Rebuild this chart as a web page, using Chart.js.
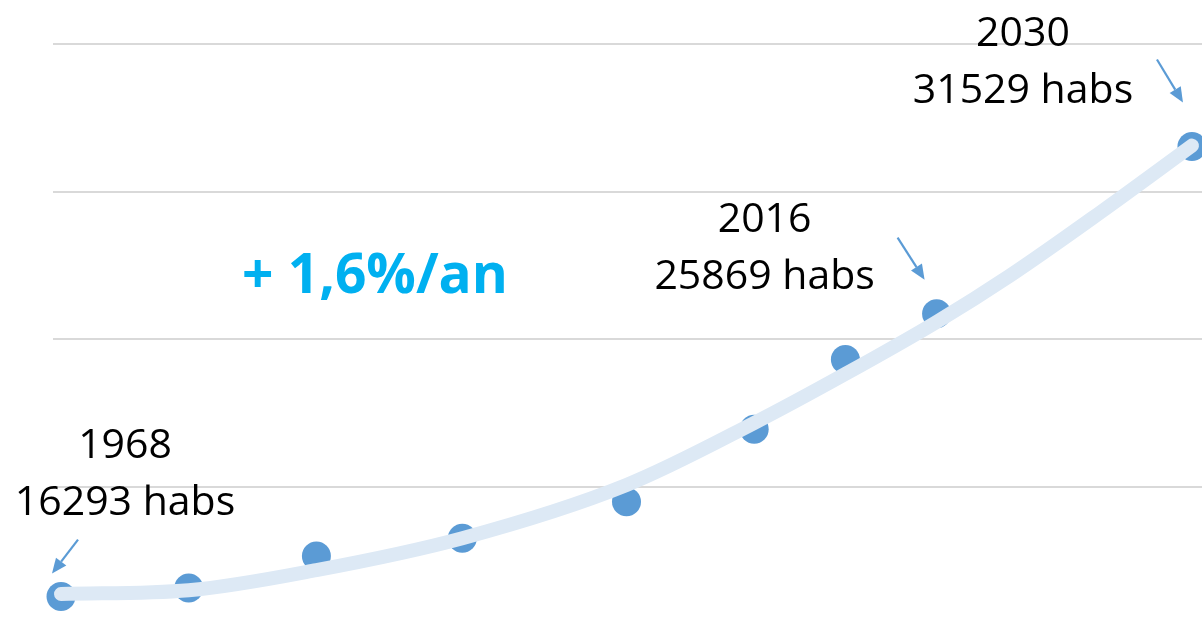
<!DOCTYPE html>
<html>
<head>
<meta charset="utf-8">
<script src="https://cdn.jsdelivr.net/npm/chart.js@4.4.1/dist/chart.umd.min.js"></script>
<style>
  html, body { margin: 0; padding: 0; background: #ffffff; overflow: hidden; }
  canvas { display: block; }
</style>
</head>
<body>
<canvas id="c" width="1202" height="633"></canvas>
<script>
// Census years and population (habitants)
const years = [1968, 1975, 1982, 1990, 1999, 2006, 2011, 2016, 2030];
const population = [16293, 16580, 17670, 18270, 19500, 21960, 24320, 25869, 31529];

// Trend curve
const trendYears = [1968, 1975, 1982, 1990, 1999, 2006, 2011, 2016, 2020, 2025, 2030];
const trendValues = [16380, 16510, 17190, 18270, 20070, 22170, 23830, 25590, 27150, 29310, 31560];

// Y gridline ticks
const yTicks = [20000, 25000, 30000, 35000];

// Annotated points
const labelYears = [1968, 2016, 2030];
const labelValues = [16293, 25869, 31529];
const growthLabel = "+ 1,6%/an";

const pointColor = '#5b9bd5';
const trendColor = '#dde9f5';

const annotations = {
  id: 'annotations',
  afterDatasetsDraw(chart) {
    const ctx = chart.ctx;
    const xs = chart.scales.x, ys = chart.scales.y;
    // text centre and arrow offsets relative to the annotated point
    const cfg = [
      { tx: 64, ty1: -139, ty2: -82, ax0: 17, ay0: -57, ax1: -9, ay1: -23 },
      { tx: -172, ty1: -82, ty2: -25, ax0: -39, ay0: -76, ax1: -12, ay1: -34 },
      { tx: -169, ty1: -101, ty2: -44, ax0: -35, ay0: -87, ax1: -9, ay1: -44 }
    ];
    ctx.save();
    labelYears.forEach((yr, i) => {
      const px = xs.getPixelForValue(yr);
      const py = ys.getPixelForValue(labelValues[i]);
      const c = cfg[i];
      ctx.fillStyle = '#000000';
      ctx.font = '41px "Open Sans"';
      ctx.textAlign = 'center';
      ctx.textBaseline = 'alphabetic';
      ctx.fillText(String(yr), px + c.tx, py + c.ty1);
      ctx.fillText(labelValues[i] + ' habs', px + c.tx, py + c.ty2);
      const x0 = px + c.ax0, y0 = py + c.ay0, x1 = px + c.ax1, y1 = py + c.ay1;
      const ang = Math.atan2(y1 - y0, x1 - x0);
      const hl = 15, hw = 6.5;
      const bx = x1 - hl * Math.cos(ang), by = y1 - hl * Math.sin(ang);
      ctx.strokeStyle = pointColor;
      ctx.fillStyle = pointColor;
      ctx.lineWidth = 2.2;
      ctx.beginPath();
      ctx.moveTo(x0, y0);
      ctx.lineTo(bx, by);
      ctx.stroke();
      ctx.beginPath();
      ctx.moveTo(x1, y1);
      ctx.lineTo(bx + hw * Math.sin(ang), by - hw * Math.cos(ang));
      ctx.lineTo(bx - hw * Math.sin(ang), by + hw * Math.cos(ang));
      ctx.closePath();
      ctx.fill();
    });
    ctx.fillStyle = '#00b0f0';
    ctx.font = 'bold 55px "Open Sans"';
    ctx.textAlign = 'center';
    ctx.fillText(growthLabel, 375, 293);
    ctx.restore();
  }
};

new Chart(document.getElementById('c'), {
  type: 'scatter',
  data: {
    datasets: [
      {
        label: 'Tendance',
        data: trendYears.map((y, i) => ({ x: y, y: trendValues[i] })),
        showLine: true,
        borderColor: trendColor,
        borderWidth: 14,
        borderCapStyle: 'round',
        borderJoinStyle: 'round',
        cubicInterpolationMode: 'monotone',
        pointRadius: 0,
        pointHoverRadius: 0,
        clip: false
      },
      {
        label: 'Population',
        data: years.map((y, i) => ({ x: y, y: population[i] })),
        showLine: false,
        pointRadius: 14.5,
        pointHoverRadius: 14.5,
        pointBackgroundColor: pointColor,
        pointBorderColor: pointColor,
        pointBorderWidth: 0,
        clip: false
      }
    ]
  },
  options: {
    responsive: false,
    animation: false,
    devicePixelRatio: 1,
    events: [],
    layout: { autoPadding: false, padding: { left: 53, right: 0, top: 44, bottom: 0 } },
    plugins: { legend: { display: false }, tooltip: { enabled: false }, title: { display: false } },
    scales: {
      x: {
        type: 'linear',
        display: false,
        min: 1967.56,
        max: 2030.55
      },
      y: {
        type: 'linear',
        min: 15060,
        max: 35000,
        afterFit(scale) { scale.width = 0; },
        afterBuildTicks(scale) { scale.ticks = yTicks.map(v => ({ value: v })); },
        ticks: { display: false },
        border: { display: false },
        grid: { color: '#d9d9d9', lineWidth: 2, drawTicks: false }
      }
    }
  },
  plugins: [annotations]
});
</script>
</body>
</html>
